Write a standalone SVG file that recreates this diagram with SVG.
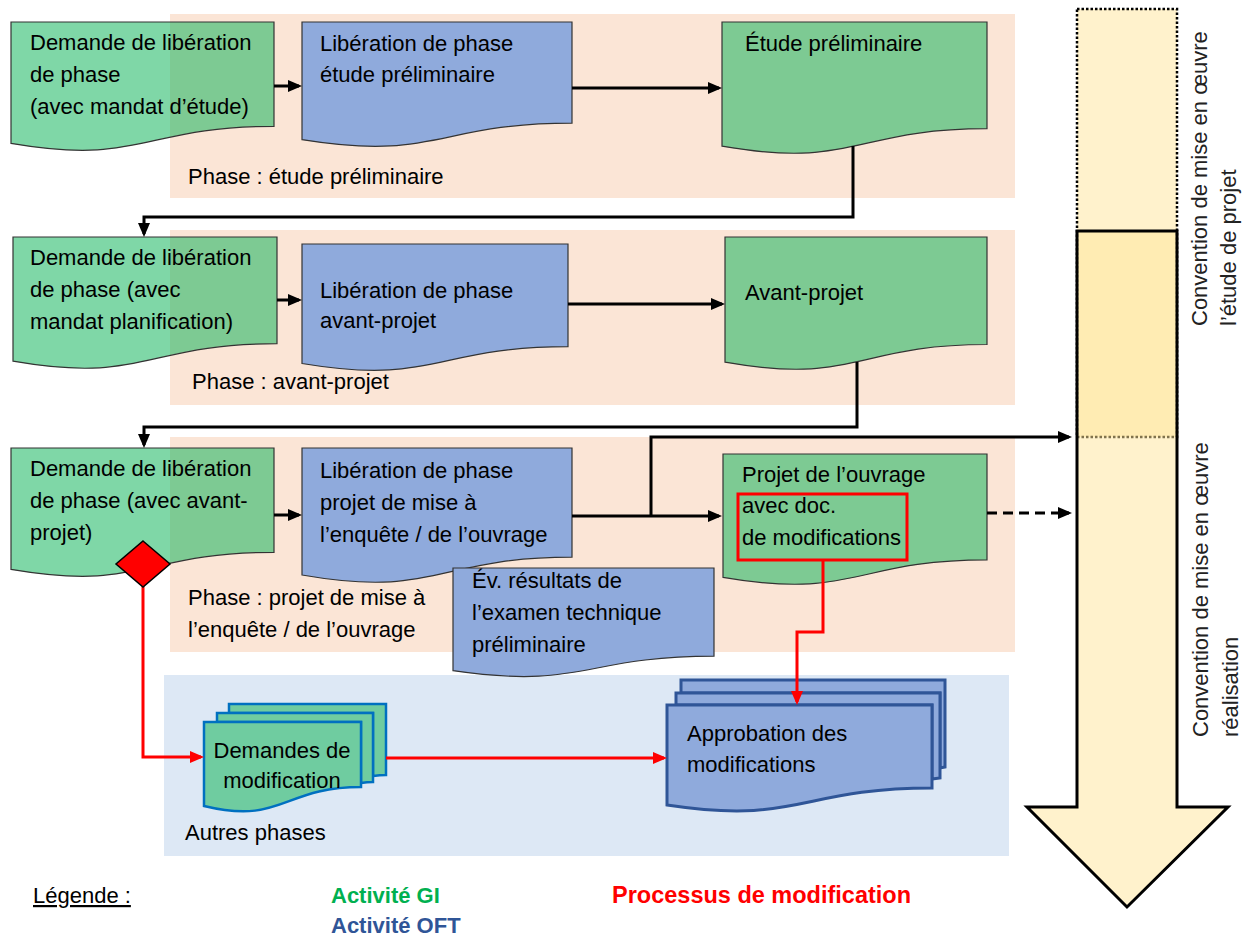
<svg xmlns="http://www.w3.org/2000/svg" width="1255" height="938" viewBox="0 0 1255 938">
<style>
.t{font-family:"Liberation Sans",Arial,sans-serif;font-size:22px;fill:#000}
.v{font-family:"Liberation Sans",Arial,sans-serif;font-size:22px;fill:#222}
.lg{font-family:"Liberation Sans",Arial,sans-serif;font-size:22px;font-weight:bold}
.gr{fill:#00B050;fill-opacity:.5;stroke:#333;stroke-width:1.2}
.bl{fill:#8FAADC;stroke:#333;stroke-width:1.2}
.ph{fill:#FBE5D6}
.c{fill:none;stroke:#000;stroke-width:3}
.r{fill:none;stroke:#FF0000;stroke-width:3}
</style>
<defs>
<marker id="ab" viewBox="0 0 14 12" refX="11" refY="6" markerWidth="14" markerHeight="12" markerUnits="userSpaceOnUse" orient="auto"><path d="M0 0L14 6L0 12Z" fill="#000"/></marker>
<marker id="ar" viewBox="0 0 14 12" refX="11" refY="6" markerWidth="14" markerHeight="12" markerUnits="userSpaceOnUse" orient="auto"><path d="M0 0L14 6L0 12Z" fill="#FF0000"/></marker>
</defs>

<g id="backgrounds">
<rect class="ph" x="170" y="14" width="845" height="184"/>
<rect class="ph" x="170" y="230" width="845" height="175"/>
<rect class="ph" x="170" y="437" width="845" height="215"/>
<rect x="164" y="675" width="845" height="181" fill="#DDE8F5"/>
<text class="t" x="188" y="184">Phase : étude préliminaire</text>
<text class="t" x="192" y="389">Phase : avant-projet</text>
<text class="t" x="188" y="605">Phase : projet de mise à</text>
<text class="t" x="188" y="637">l’enquête / de l’ouvrage</text>
<text class="t" x="185" y="840">Autres phases</text>
</g>

<g id="timeline">
<rect x="1077" y="9" width="100" height="428" fill="#FFE699" fill-opacity=".5" stroke="#000" stroke-width="2.5" stroke-dasharray="2.5 2"/>
<path d="M1077 231H1177V807H1228L1127 907L1027 807H1077Z" fill="#FFE699" fill-opacity=".5" stroke="#000" stroke-width="3" stroke-linejoin="miter"/>
<text class="v" transform="translate(1207,326) rotate(-90)">Convention de mise en œuvre</text>
<text class="v" transform="translate(1236,326) rotate(-90)">l’étude de projet</text>
<text class="v" transform="translate(1208,737) rotate(-90)">Convention de mise en œuvre</text>
<text class="v" transform="translate(1238,737) rotate(-90)">réalisation</text>
</g>

<g id="n1">
<path class="gr" d="M11 22H274V126.3C142.5 126.3 142.5 165.9 11 143.4Z"/>
<text class="t" x="30" y="50">Demande de libération</text>
<text class="t" x="30" y="82">de phase</text>
<text class="t" x="30" y="114">(avec mandat d’étude)</text>
</g>
<g id="n2">
<path class="bl" d="M302 22H572V123.1C437 123.1 437 161.5 302 139.7Z"/>
<text class="t" x="320" y="51">Libération de phase</text>
<text class="t" x="320" y="82">étude préliminaire</text>
</g>
<g id="n3">
<path class="gr" d="M722 22H987V128.7C854.5 128.7 854.5 169.2 722 146.2Z"/>
<text class="t" x="745" y="51">Étude préliminaire</text>
</g>

<g id="n4">
<path class="gr" d="M13 237H277V343.7C145 343.7 145 384.2 13 361.2Z"/>
<text class="t" x="30" y="265">Demande de libération</text>
<text class="t" x="30" y="297">de phase (avec</text>
<text class="t" x="30" y="329">mandat planification)</text>
</g>
<g id="n5">
<path class="bl" d="M302 244H568V346.7C435 346.7 435 385.7 302 363.5Z"/>
<text class="t" x="320" y="298">Libération de phase</text>
<text class="t" x="320" y="328">avant-projet</text>
</g>
<g id="n6">
<path class="gr" d="M725 237H987V344.5C856 344.5 856 385.3 725 362.2Z"/>
<text class="t" x="745" y="300">Avant-projet</text>
</g>

<g id="n7">
<path class="gr" d="M11 448H274V552.3C142.5 552.3 142.5 591.9 11 569.4Z"/>
<text class="t" x="30" y="476">Demande de libération</text>
<text class="t" x="30" y="508">de phase (avec avant-</text>
<text class="t" x="30" y="540">projet)</text>
</g>
<g id="n8">
<path class="bl" d="M302 448H572V557.1C437 557.1 437 598.6 302 575Z"/>
<text class="t" x="320" y="478">Libération de phase</text>
<text class="t" x="320" y="510">projet de mise à</text>
<text class="t" x="320" y="542">l’enquête / de l’ouvrage</text>
</g>
<g id="n9">
<path class="bl" d="M453 568H714V656.2C583.5 656.2 583.5 689.8 453 670.7Z"/>
<text class="t" x="472" y="588">Év. résultats de</text>
<text class="t" x="472" y="620">l’examen technique</text>
<text class="t" x="472" y="652">préliminaire</text>
</g>
<g id="n10">
<path class="gr" d="M723 454H987V559.9C855 559.9 855 600.1 723 577.3Z"/>
<text class="t" x="742" y="482">Projet de l’ouvrage</text>
<text class="t" x="742" y="513">avec doc.</text>
<text class="t" x="742" y="545">de modifications</text>
<rect x="738" y="494" width="169" height="66" fill="none" stroke="#FF0000" stroke-width="3"/>
</g>

<g id="demandes">
<path d="M229 713V704H386V775C380 775 373 776 373 776V713Z" fill="#6FCCA0" stroke="#0070C0" stroke-width="2.5"/>
<path d="M217 722V713H373V782C367 782 361 783 361 783V722Z" fill="#6FCCA0" stroke="#0070C0" stroke-width="2.5"/>
<path d="M204 722H361V787C282.5 787 282.5 825 204 806Z" fill="#6FCCA0" stroke="#0070C0" stroke-width="2.5"/>
<text class="t" x="282" y="758" text-anchor="middle">Demandes de</text>
<text class="t" x="282" y="788" text-anchor="middle">modification</text>
</g>

<g id="approbation">
<path d="M681 693V680H945V767L940 768V693Z" fill="#8FAADC" stroke="#2F5597" stroke-width="3"/>
<path d="M676 705V693H940V778L932 779V705Z" fill="#8FAADC" stroke="#2F5597" stroke-width="3"/>
<path d="M667 705H932V788C799.5 788 799.5 825 667 805Z" fill="#8FAADC" stroke="#2F5597" stroke-width="3"/>
<text class="t" x="687" y="741">Approbation des</text>
<text class="t" x="687" y="772">modifications</text>
</g>

<g id="connectors">
<path class="c" d="M274 86H299" marker-end="url(#ab)"/>
<path class="c" d="M572 88H719" marker-end="url(#ab)"/>
<path class="c" d="M853 146V217H144V234" marker-end="url(#ab)"/>
<path class="c" d="M277 300H299" marker-end="url(#ab)"/>
<path class="c" d="M568 304H722" marker-end="url(#ab)"/>
<path class="c" d="M857 362V427H144V445" marker-end="url(#ab)"/>
<path class="c" d="M274 515H299" marker-end="url(#ab)"/>
<path class="c" d="M572 516H719" marker-end="url(#ab)"/>
<path class="c" d="M651 516V437H1069" marker-end="url(#ab)"/>
<path class="c" d="M987 513H1069" stroke-dasharray="10 6" marker-end="url(#ab)"/>
<path class="r" d="M143 586V757H201" marker-end="url(#ar)"/>
<path class="r" d="M386 758H664" marker-end="url(#ar)"/>
<path class="r" d="M823 560V632H797V702" marker-end="url(#ar)"/>
</g>

<g id="decision">
<polygon points="143,541 170,564 143,587 116,564" fill="#FF0000" stroke="#000" stroke-width="1.5"/>
</g>

<g id="legend">
<text class="t" x="33" y="903" text-decoration="underline">Légende :</text>
<text class="lg" x="331" y="903" fill="#00B050">Activité GI</text>
<text class="lg" x="331" y="933" fill="#2F5597">Activité OFT</text>
<text class="lg" x="612" y="903" fill="#FF0000" style="font-size:23.5px">Processus de modification</text>
</g>
</svg>
